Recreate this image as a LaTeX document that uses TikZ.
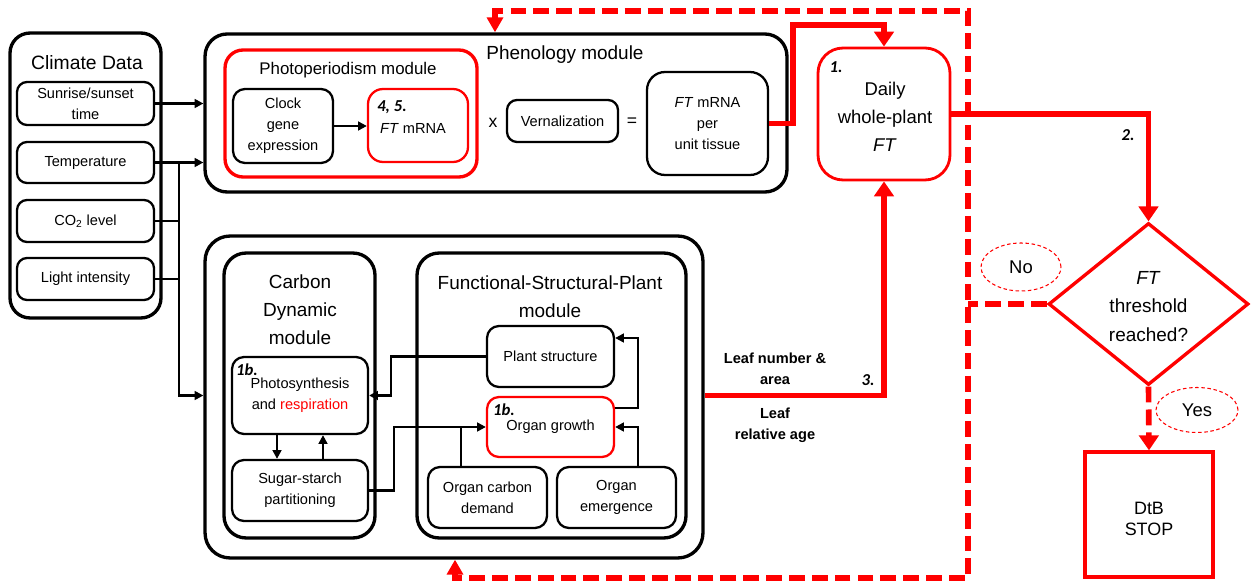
\documentclass[tikz,border=0pt]{standalone}
\usepackage{fontspec}
\setmainfont{Liberation Sans}
\newfontfamily\numfont{Carlito}
\usetikzlibrary{arrows.meta,shapes.geometric}

\tikzset{
  cellbox/.style={draw, rounded corners=0.2cm, line width=1.3pt, inner sep=0pt, align=center, font=\fontsize{8.3}{12}\selectfont},
  redcell/.style={cellbox, draw=red},
  modbox/.style={draw, rounded corners=0.44cm, line width=1.9pt, inner sep=0pt},
  modtitle/.style={align=center, inner sep=0pt, font=\fontsize{10.8}{16}\selectfont},
  steplabel/.style={inner sep=0pt, font=\numfont\bfseries\itshape\fontsize{9.5}{11}\selectfont},
  leaflabel/.style={align=center, inner sep=0pt, font=\bfseries\fontsize{8.3}{12}\selectfont},
  bigflow/.style={draw=red, line width=3.2pt, -{Triangle[length=8.5pt,width=11pt]}},
  loopflow/.style={draw=red, line width=3.2pt, dash pattern=on 9pt off 4pt},
  answer/.style={ellipse, draw=red, line width=0.6pt, dash pattern=on 2pt off 1.5pt, inner sep=0pt, font=\fontsize{10.5}{12}\selectfont}
}

\begin{document}
\begin{tikzpicture}[x=0.02cm, y=-0.02cm, line width=1.5pt, >={Triangle[length=5pt,width=5pt]}]

\useasboundingbox (0,0) rectangle (1251,584);

% climate data
\node[modbox, rounded corners=0.4cm, minimum width=3.02cm, minimum height=5.70cm] (clim) at (85.5,175.5) {};
\node[modtitle, font=\fontsize{11}{13}\selectfont] (climt) at (87,63) {Climate Data};
\node[cellbox, minimum width=2.74cm, minimum height=0.86cm] (sun) at (85.5,103.5) {Sunrise/sunset\\time};
\node[cellbox, minimum width=2.74cm, minimum height=0.82cm] (temp) at (85.5,162.5) {Temperature};
\node[cellbox, minimum width=2.74cm, minimum height=0.84cm] (co2) at (85.5,221) {CO\textsubscript{2} level};
\node[cellbox, minimum width=2.74cm, minimum height=0.84cm] (light) at (85.5,279) {Light intensity};

% phenology module
\node[modbox, minimum width=11.64cm, minimum height=3.16cm] (phen) at (496,113) {};
\node[modtitle] (phent) at (565,55) {Phenology module};
\node[modbox, draw=red, rounded corners=0.36cm, minimum width=5.04cm, minimum height=2.54cm] (photo) at (351,113.5) {};
\node[modtitle, font=\fontsize{9.6}{12}\selectfont] (photot) at (348,70) {Photoperiodism module};
\node[cellbox, rounded corners=0.24cm, minimum width=2.0cm, minimum height=1.48cm] (clock) at (283,126) {Clock\\gene\\expression};
\node[redcell, rounded corners=0.3cm, minimum width=2.0cm, minimum height=1.46cm] (ftm) at (418,125.5) {};
\node[steplabel] (ftml) at (392,107) {4, 5.};
\node[font=\fontsize{8.3}{12}\selectfont] (ftmt) at (413,128) {\textit{FT} mRNA};
\node[font=\fontsize{10}{12}\selectfont] (times) at (493,123) {x};
\node[cellbox, minimum width=2.22cm, minimum height=0.84cm] (vern) at (562.5,121) {Vernalization};
\node[font=\fontsize{10}{12}\selectfont] (equals) at (632,122) {=};
\node[cellbox, rounded corners=0.36cm, minimum width=2.42cm, minimum height=2.06cm] (ftu) at (707.5,123.5) {\textit{FT} mRNA\\per\\unit tissue};

% daily FT
\node[redcell, line width=1.6pt, rounded corners=0.5cm, minimum width=2.64cm, minimum height=2.64cm, font=\fontsize{10.5}{16}\selectfont] (daily) at (884,114) {};
\node[align=center, inner sep=0pt, font=\fontsize{10.5}{16}\selectfont] (dailyt) at (885,117) {Daily\\whole-plant\\\textit{FT}};
\node[steplabel] (dailyl) at (836,67) {1.};

% carbon and FSP modules
\node[modbox, rounded corners=0.5cm, minimum width=9.96cm, minimum height=6.44cm] (big) at (454,397) {};
\node[modbox, minimum width=3.02cm, minimum height=5.70cm] (cdm) at (299.5,395.5) {};
\node[modtitle] (cdmt) at (300,310) {Carbon\\Dynamic\\module};
\node[cellbox, rounded corners=0.24cm, minimum width=2.72cm, minimum height=1.54cm] (ps) at (300,395.5) {Photosynthesis\\and \textcolor{red}{respiration}};
\node[steplabel] (psl) at (247,370) {1b.};
\node[cellbox, rounded corners=0.24cm, minimum width=2.72cm, minimum height=1.22cm] (ss) at (300,490.5) {Sugar-starch\\partitioning};

\node[modbox, minimum width=5.38cm, minimum height=5.70cm] (fsp) at (551.5,395.5) {};
\node[modtitle] (fspt) at (550,296.5) {Functional-Structural-Plant\\module};
\node[cellbox, rounded corners=0.24cm, minimum width=2.54cm, minimum height=1.22cm] (pstr) at (550.5,356.5) {Plant structure};
\node[redcell, rounded corners=0.24cm, minimum width=2.54cm, minimum height=1.20cm] (og) at (550.5,427) {Organ growth};
\node[steplabel] (ogl) at (504,410) {1b.};
\node[cellbox, rounded corners=0.24cm, minimum width=2.38cm, minimum height=1.22cm] (ocd) at (487.5,497.5) {Organ carbon\\demand};
\node[cellbox, rounded corners=0.24cm, minimum width=2.38cm, minimum height=1.22cm] (oem) at (616.5,497.5) {Organ\\emergence};

% decision
\node[diamond, draw=red, line width=1.9pt, minimum width=4cm, minimum height=3.24cm, inner sep=0pt] (thr) at (1148.5,304) {};
\node[align=center, inner sep=0pt, font=\fontsize{10.8}{16}\selectfont] (thrt) at (1148.5,306.5) {\textit{FT}\\threshold\\reached?};
\node[draw=red, line width=1.9pt, minimum width=2.56cm, minimum height=2.5cm] (dtb) at (1149,514.5) {};
\node[align=center, inner sep=0pt, font=\fontsize{10.2}{12}\selectfont] (dtbt) at (1149,519) {DtB\\STOP};
\node[answer, minimum width=1.6cm, minimum height=0.96cm] (no) at (1021,267) {No};
\node[answer, minimum width=1.64cm, minimum height=0.9cm] (yes) at (1197,410) {Yes};

% leaf labels
\node[leaflabel] (lna) at (775,369) {Leaf number \&\\area};
\node[leaflabel] (lra) at (775,425) {Leaf\\relative age};
\node[steplabel] (lnal) at (868,380) {3.};
\node[steplabel] (thrl) at (1128,135) {2.};

% climate inputs
\coordinate (tk) at (179,162.5);
\draw[->] (sun.east) -- (sun.east -| phen.west);
\draw[->] (temp.east) -- (temp.east -| phen.west);
\draw (co2.east) -- (co2.east -| tk);
\draw (light.east) -- (light.east -| tk);
\draw[->] (tk) |- (big.west |- ps);

% inner arrows
\draw[->] (clock.east) -- (clock.east -| ftm.west);
\draw[->] (pstr.west) -- ++(-95,0) |- (ps.east);
\draw[->] (ss.east) -- ++(25,0) |- (og.west);
\draw[->] ([xshift=-0.46cm]ps.south) -- ([xshift=-0.46cm]ss.north);
\draw[->] ([xshift=0.46cm]ss.north) -- ([xshift=0.46cm]ps.south);
\coordinate (cj) at (461,427);
\draw (ocd.north -| cj) -- (cj);
\coordinate (oj) at (638,427);
\draw[->] (oem.north -| oj) -- (oj) -- (og.east);
\coordinate (ou) at (638,338);
\draw[->] ([yshift=0.38cm]og.east) -| (ou) -- (ou -| pstr.east);

% red flows
\coordinate (fj) at (793,25);
\draw[bigflow] (ftu.east) -| (fj) -| (daily.north);
\draw[bigflow] (daily.east) -| (thr.north);
\draw[bigflow] (big.east |- ps) -| (daily.south);

% feedback loop
\coordinate (lt) at (495,11);
\coordinate (rt) at (968,11);
\coordinate (rb) at (968,578);
\coordinate (lb) at (455,578);
\draw[loopflow, {Triangle[length=8.5pt,width=9pt]}-{Triangle[length=8.5pt,width=9pt]}] (lt |- phen.north) -- (lt) -- (rt) -- (rb) -- (lb) -- (lb |- big.south);
\draw[loopflow] (thr.west) -- (thr.west -| rt);
\draw[loopflow, -{Triangle[length=8.5pt,width=11pt]}] (thr.south) -- (dtb.north);

\end{tikzpicture}
\end{document}
